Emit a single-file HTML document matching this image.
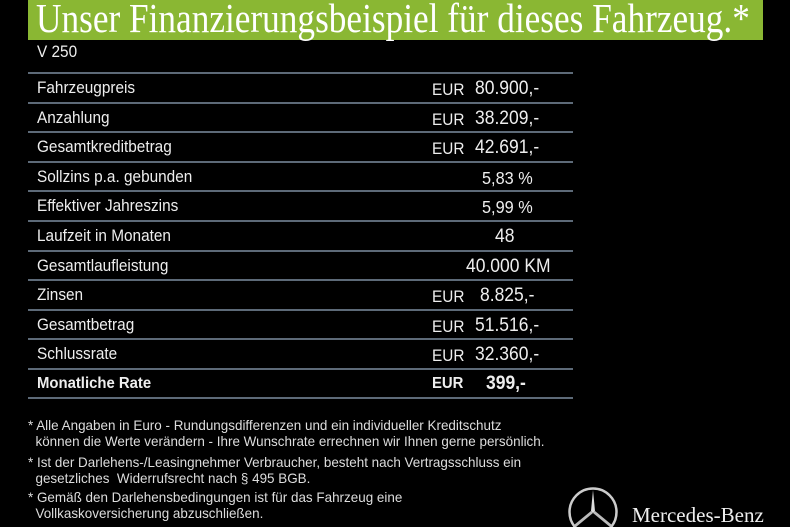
<!DOCTYPE html>
<html><head><meta charset="utf-8"><style>
html,body{margin:0;width:790px;height:527px;overflow:hidden}
body{background:#000;position:relative;font-family:"Liberation Sans",sans-serif;color:#eee}
.banner{position:absolute;left:28px;top:0;width:735px;height:40px;background:#8ab733}
.title{position:absolute;left:36px;top:-6px;font-family:"Liberation Serif",serif;font-size:41px;color:#fff;transform:scaleX(0.86);transform-origin:left top;white-space:nowrap}
.t{position:absolute;white-space:nowrap;font-size:16.5px;transform:scaleX(0.93);transform-origin:left top}
.n{font-size:19px;transform:scaleX(0.92)}
.line{position:absolute;left:28px;width:545px;height:2px;background:#5d6a78}
.fn{position:absolute;left:28px;font-size:14px;line-height:16px;color:#ddd;white-space:nowrap;transform:scaleX(0.96);transform-origin:left top}
</style></head><body>
<div class="banner"></div>
<div class="title">Unser Finanzierungsbeispiel für dieses Fahrzeug.*</div>
<div class="t" style="left:37px;top:43px">V 250</div>
<div class="line" style="top:72px"></div>
<div class="line" style="top:102px"></div>
<div class="line" style="top:131px"></div>
<div class="line" style="top:161px"></div>
<div class="line" style="top:190px"></div>
<div class="line" style="top:220px"></div>
<div class="line" style="top:250px"></div>
<div class="line" style="top:279px"></div>
<div class="line" style="top:309px"></div>
<div class="line" style="top:338px"></div>
<div class="line" style="top:368px"></div>
<div class="line" style="top:397px"></div>

<div class="t" style="left:37px;top:79px">Fahrzeugpreis</div>
<div class="t" style="left:432px;top:81px">EUR</div><div class="t n" style="left:475px;top:78px">80.900,-</div>
<div class="t" style="left:37px;top:109px">Anzahlung</div>
<div class="t" style="left:432px;top:111px">EUR</div><div class="t n" style="left:475px;top:108px">38.209,-</div>
<div class="t" style="left:37px;top:138px">Gesamtkreditbetrag</div>
<div class="t" style="left:432px;top:140px">EUR</div><div class="t n" style="left:475px;top:137px">42.691,-</div>
<div class="t" style="left:37px;top:168px">Sollzins p.a. gebunden</div>
<div class="t" style="left:482px;top:168px;font-size:17.5px">5,83 %</div>
<div class="t" style="left:37px;top:197px">Effektiver Jahreszins</div>
<div class="t" style="left:482px;top:197px;font-size:17.5px">5,99 %</div>
<div class="t" style="left:37px;top:227px">Laufzeit in Monaten</div>
<div class="t n" style="left:495px;top:226px">48</div>
<div class="t" style="left:37px;top:257px">Gesamtlaufleistung</div>
<div class="t n" style="left:466px;top:256px">40.000 KM</div>
<div class="t" style="left:37px;top:286px">Zinsen</div>
<div class="t" style="left:432px;top:288px">EUR</div><div class="t n" style="left:480px;top:285px">8.825,-</div>
<div class="t" style="left:37px;top:316px">Gesamtbetrag</div>
<div class="t" style="left:432px;top:318px">EUR</div><div class="t n" style="left:475px;top:315px">51.516,-</div>
<div class="t" style="left:37px;top:345px">Schlussrate</div>
<div class="t" style="left:432px;top:347px">EUR</div><div class="t n" style="left:475px;top:344px">32.360,-</div>
<div class="t" style="left:37px;top:375px;font-weight:bold;font-size:16px">Monatliche Rate</div>
<div class="t" style="left:432px;top:375px;font-weight:bold;font-size:16px">EUR</div><div class="t n" style="left:486px;top:373px;font-weight:bold">399,-</div>

<div class="fn" style="top:417px">* Alle Angaben in Euro - Rundungsdifferenzen und ein individueller Kreditschutz<br>&nbsp;&nbsp;können die Werte verändern - Ihre Wunschrate errechnen wir Ihnen gerne persönlich.</div>
<div class="fn" style="top:454px">* Ist der Darlehens-/Leasingnehmer Verbraucher, besteht nach Vertragsschluss ein<br>&nbsp;&nbsp;gesetzliches&nbsp; Widerrufsrecht nach § 495 BGB.</div>
<div class="fn" style="top:489px">* Gemäß den Darlehensbedingungen ist für das Fahrzeug eine<br>&nbsp;&nbsp;Vollkaskoversicherung abzuschließen.</div>

<svg style="position:absolute;left:566px;top:486px" width="56" height="41" viewBox="0 0 56 41">
<circle cx="27" cy="26" r="23.5" fill="none" stroke="#ccc" stroke-width="2.5"/>
<polygon points="27,4 29,25 27,27 25,25" fill="#ddd"/>
<polygon points="27,27 29,25 46,39 44,41" fill="#bbb"/>
<polygon points="27,27 25,25 8,39 10,41" fill="#bbb"/>
</svg>
<div style="position:absolute;left:632px;top:503px;font-family:'Liberation Serif',serif;font-size:21px;color:#eee;white-space:nowrap">Mercedes-Benz</div>
</body></html>
